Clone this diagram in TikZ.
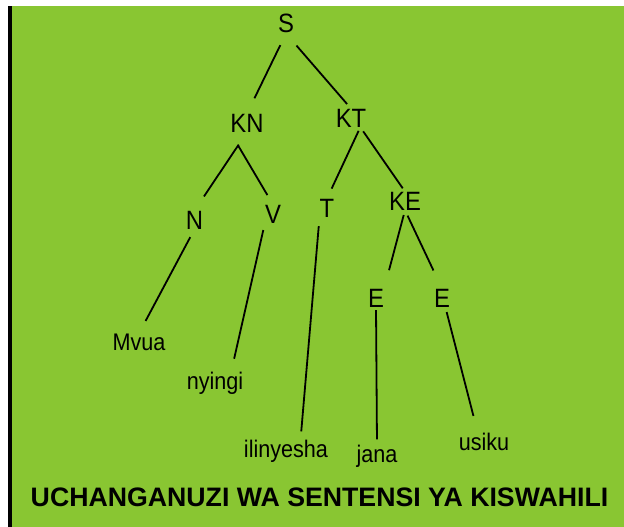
\documentclass[tikz,border=0pt]{standalone}
\usepackage{fontspec}
\setmainfont{Liberation Sans}
\newfontfamily\narrowsans[FakeStretch=0.9]{Liberation Sans}
\definecolor{leaf}{RGB}{137,198,50}

\begin{document}
\begin{tikzpicture}[x=1pt, y=-1pt,
  tag/.style={anchor=base, inner sep=0pt, font=\narrowsans\fontsize{26.5}{30}\selectfont},
  word/.style={anchor=base, inner sep=0pt, font=\narrowsans\fontsize{24}{28}\selectfont},
  branch/.style={line width=1.8pt}]

  % page with the green panel and its dark left edge
  \useasboundingbox (0,0) rectangle (624,527);
  \fill[white] (0,0) rectangle (624,527);
  \fill[leaf] (12,6) rectangle (624,527);
  \fill[black] (8,6) rectangle (12,527);

  % categories (S, KN, KT, ...)
  \node[tag] (s)  at (286,33)  {S};
  \node[tag] (kn) at (247,132) {KN};
  \node[tag] (kt) at (351,127) {KT};
  \node[tag] (n)  at (194.5,229) {N};
  \node[tag] (v)  at (273,223) {V};
  \node[tag] (t)  at (327,217) {T};
  \node[tag] (ke) at (405,210) {KE};
  \node[tag] (e1) at (376,307) {E};
  \node[tag] (e2) at (442,307) {E};

  % words of the sentence
  \node[word] (mvua)      at (139,350) {Mvua};
  \node[word] (nyingi)    at (215,389) {nyingi};
  \node[word] (ilinyesha) at (286,457) {ilinyesha};
  \node[word] (jana)      at (377,462) {jana};
  \node[word] (usiku)     at (484,450) {usiku};

  % branches: from / to / gap at start / gap at end
  \foreach \a/\b/\p/\q in {s.south/kn.north/13/17, s.south/kt.north/16/6,
      kn.south/n.north/15/17, kn.south west/v.north/15/11,
      kt.-45/t.north/4/11, kt.-45/ke.north/5/4,
      ke.south/e1.north east/5/19, ke.south/e2.north/6/20,
      n.south/mvua.north/9/14, v.south west/nyingi.35/7/13,
      t.south west/ilinyesha.38/9/8, e1.south/jana.north/3/5,
      e2.-70/usiku.125/5/17}
    \draw[branch, shorten <=\p pt, shorten >=\q pt] (\a) -- (\b);

  % caption
  \node[anchor=base, inner sep=0pt, font=\fontsize{26.7}{30}\selectfont\bfseries]
    (title) at (319.5,506) {UCHANGANUZI WA SENTENSI YA KISWAHILI};

\end{tikzpicture}
\end{document}
